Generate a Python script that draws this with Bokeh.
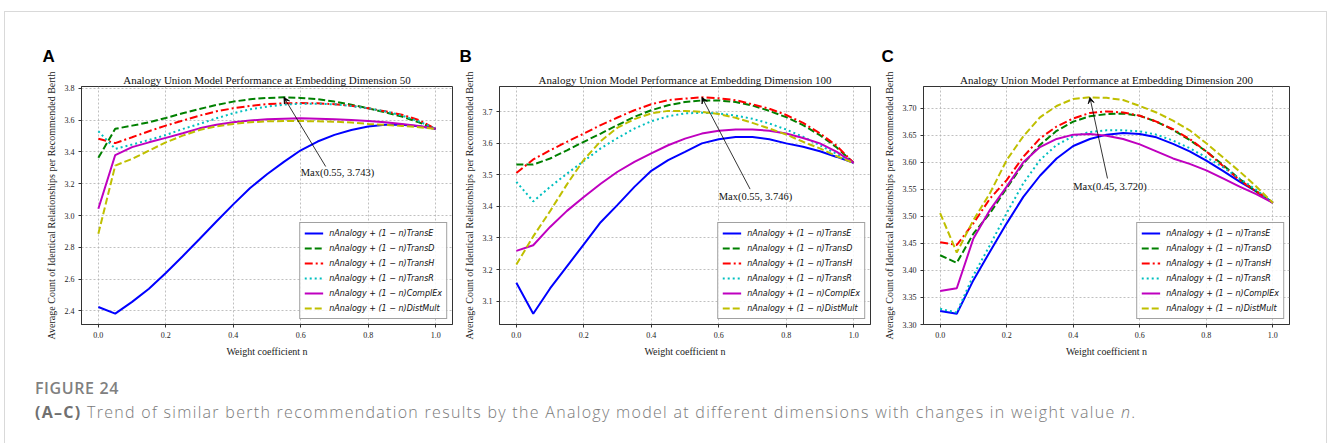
from bokeh.plotting import figure
from bokeh.models import (Range1d, FixedTicker, PrintfTickFormatter, Label, Arrow,
                          VeeHead, Div, Title)
from bokeh.layouts import row, column
from bokeh.embed import file_html
from bokeh.resources import INLINE

# ---------------- data ----------------
n = [0.0, 0.05, 0.1, 0.15, 0.2, 0.25, 0.3, 0.35, 0.4, 0.45, 0.5,
     0.55, 0.6, 0.65, 0.7, 0.75, 0.8, 0.85, 0.9, 0.95, 1.0]

series_names = ["TransE", "TransD", "TransH", "TransR", "ComplEx", "DistMult"]

# Embedding dimension 50
a_transe = [2.425, 2.383, 2.457, 2.540, 2.639, 2.744, 2.852, 2.962, 3.070, 3.173, 3.259,
            3.337, 3.410, 3.465, 3.507, 3.538, 3.559, 3.570, 3.570, 3.561, 3.545]
a_transd = [3.363, 3.545, 3.565, 3.586, 3.613, 3.643, 3.670, 3.695, 3.716, 3.731, 3.739,
            3.743, 3.739, 3.731, 3.716, 3.697, 3.674, 3.649, 3.622, 3.586, 3.545]
a_transh = [3.482, 3.455, 3.492, 3.530, 3.565, 3.597, 3.628, 3.655, 3.674, 3.689, 3.700,
            3.705, 3.707, 3.705, 3.700, 3.690, 3.674, 3.655, 3.634, 3.600, 3.545]
a_transr = [3.530, 3.419, 3.446, 3.475, 3.506, 3.544, 3.576, 3.611, 3.643, 3.668, 3.684,
            3.697, 3.703, 3.703, 3.699, 3.688, 3.674, 3.655, 3.628, 3.592, 3.545]
a_complex = [3.043, 3.380, 3.430, 3.460, 3.488, 3.517, 3.548, 3.570, 3.586, 3.597, 3.605,
             3.609, 3.611, 3.609, 3.605, 3.600, 3.594, 3.586, 3.576, 3.563, 3.545]
a_distmult = [2.886, 3.314, 3.356, 3.408, 3.460, 3.502, 3.538, 3.561, 3.576, 3.586, 3.592,
              3.594, 3.594, 3.592, 3.590, 3.584, 3.576, 3.570, 3.563, 3.555, 3.545]

# Embedding dimension 100
b_transe = [3.158, 3.060, 3.140, 3.210, 3.280, 3.350, 3.405, 3.462, 3.513, 3.547, 3.573,
            3.600, 3.613, 3.620, 3.620, 3.613, 3.600, 3.589, 3.575, 3.557, 3.538]
b_transd = [3.533, 3.533, 3.552, 3.578, 3.605, 3.631, 3.658, 3.684, 3.705, 3.721, 3.731,
            3.736, 3.736, 3.731, 3.720, 3.703, 3.683, 3.658, 3.626, 3.587, 3.538]
b_transh = [3.506, 3.549, 3.578, 3.605, 3.631, 3.658, 3.682, 3.705, 3.724, 3.737, 3.742,
            3.746, 3.743, 3.737, 3.724, 3.710, 3.690, 3.665, 3.632, 3.592, 3.538]
b_transr = [3.478, 3.416, 3.462, 3.504, 3.544, 3.584, 3.617, 3.647, 3.670, 3.686, 3.695,
            3.697, 3.695, 3.688, 3.678, 3.663, 3.644, 3.621, 3.594, 3.566, 3.538]
b_complex = [3.259, 3.277, 3.335, 3.386, 3.430, 3.472, 3.510, 3.541, 3.568, 3.594, 3.615,
             3.631, 3.640, 3.644, 3.644, 3.640, 3.631, 3.617, 3.600, 3.573, 3.538]
b_distmult = [3.216, 3.305, 3.385, 3.470, 3.548, 3.607, 3.650, 3.677, 3.695, 3.703, 3.703,
              3.700, 3.693, 3.681, 3.665, 3.647, 3.628, 3.605, 3.584, 3.559, 3.538]

# Embedding dimension 200
c_transe = [3.325, 3.320, 3.382, 3.435, 3.487, 3.536, 3.575, 3.607, 3.630, 3.643, 3.651,
            3.654, 3.652, 3.646, 3.634, 3.620, 3.603, 3.584, 3.564, 3.546, 3.525]
c_transd = [3.428, 3.414, 3.468, 3.506, 3.552, 3.597, 3.632, 3.658, 3.675, 3.685, 3.689,
            3.690, 3.686, 3.675, 3.660, 3.641, 3.620, 3.595, 3.569, 3.546, 3.525]
c_transh = [3.452, 3.447, 3.487, 3.533, 3.567, 3.610, 3.644, 3.666, 3.681, 3.691, 3.694,
            3.692, 3.686, 3.675, 3.661, 3.643, 3.620, 3.593, 3.567, 3.546, 3.525]
c_transr = [3.329, 3.322, 3.391, 3.447, 3.506, 3.561, 3.604, 3.632, 3.648, 3.656, 3.659,
            3.659, 3.657, 3.651, 3.640, 3.626, 3.609, 3.591, 3.570, 3.549, 3.525]
c_complex = [3.362, 3.367, 3.459, 3.512, 3.555, 3.600, 3.628, 3.643, 3.651, 3.652, 3.649,
             3.643, 3.633, 3.620, 3.607, 3.597, 3.585, 3.570, 3.555, 3.541, 3.525]
c_distmult = [3.506, 3.433, 3.493, 3.543, 3.604, 3.648, 3.683, 3.704, 3.717, 3.720, 3.719,
              3.715, 3.704, 3.692, 3.677, 3.659, 3.635, 3.609, 3.583, 3.555, 3.525]

x_ticks = [0.0, 0.2, 0.4, 0.6, 0.8, 1.0]
a_yticks = [2.4, 2.6, 2.8, 3.0, 3.2, 3.4, 3.6, 3.8]
b_yticks = [3.1, 3.2, 3.3, 3.4, 3.5, 3.6, 3.7]
c_yticks = [3.30, 3.35, 3.40, 3.45, 3.50, 3.55, 3.60, 3.65, 3.70]

dims = [50, 100, 200]
letters = ["A", "B", "C"]
title_tpl = "Analogy Union Model Performance at Embedding Dimension {}"
x_label = "Weight coefficient n"
y_label = "Average Count of Identical Relationships per Recommended Berth"
caption_head = "FIGURE 24"
caption_bold = "(A\u2013C)"
caption_text = (" Trend of similar berth recommendation results by the Analogy model "
                "at different dimensions with changes in weight value ")

# ---------------- styling ----------------
colors = ["#0000ff", "#008000", "#ff0000", "#00bfbf", "#bf00bf", "#bfbf00"]
dashes = ["solid", "7 3", "8 3 2 3", "2 3", "solid", "7 3"]
SERIF = "Liberation Serif"

H = 370
TOP, BOTTOM = 86, 46


def make_panel(idx, data, yticks, fmt, width, bl, br, max_series, txt_xy, tail_xy, letter_dx):
    lo = min(min(s) for s in data)
    hi = max(max(s) for s in data)
    pad = 0.05 * (hi - lo)
    p = figure(width=width, height=H, x_range=Range1d(-0.05, 1.05),
               y_range=Range1d(lo - pad, hi + pad), output_backend="svg",
               toolbar_location=None, min_border_left=bl, min_border_right=br,
               min_border_top=TOP, min_border_bottom=BOTTOM)
    p.background_fill_color = "white"
    p.border_fill_color = "white"
    p.outline_line_color = "#333333"
    p.outline_line_width = 1

    # panel letter (outer) and chart title (inner, next to the frame)
    p.title.text = letters[idx]
    p.title.align = "left"
    p.title.offset = letter_dx
    p.title.text_font = "Liberation Sans"
    p.title.text_font_style = "bold"
    p.title.text_font_size = "17px"
    p.title.text_color = "#000000"
    p.title.standoff = 10
    p.add_layout(Title(text=title_tpl.format(dims[idx]), align="center",
                       text_font=SERIF, text_font_style="normal",
                       text_font_size="11px", text_color="#111111", standoff=2), "above")

    for s, name, c, d in zip(data, series_names, colors, dashes):
        p.line(n, s, line_color=c, line_width=2, line_dash=d,
               legend_label="nAnalogy + (1 \u2212 n)" + name)

    for ax in (p.xaxis[0], p.yaxis[0]):
        ax.axis_line_color = "#333333"
        ax.major_tick_line_color = "#333333"
        ax.major_tick_out = 3
        ax.major_tick_in = 0
        ax.minor_tick_out = 0
        ax.minor_tick_in = 0
        ax.major_label_text_font = SERIF
        ax.major_label_text_font_size = "8px"
        ax.major_label_text_color = "#222222"
        ax.axis_label_text_font = SERIF
        ax.axis_label_text_font_size = "10px"
        ax.axis_label_text_font_style = "normal"
        ax.axis_label_text_color = "#222222"
        ax.major_label_standoff = 4
        ax.axis_label_standoff = 5

    p.xaxis.ticker = FixedTicker(ticks=x_ticks)
    p.xaxis.formatter = PrintfTickFormatter(format="%.1f")
    p.yaxis.ticker = FixedTicker(ticks=yticks)
    p.yaxis.formatter = PrintfTickFormatter(format=fmt)
    p.xaxis.axis_label = x_label
    p.yaxis.axis_label = y_label

    for g in (p.xgrid[0], p.ygrid[0]):
        g.grid_line_color = "#b0b0b0"
        g.grid_line_dash = "2 2"
        g.grid_line_width = 0.8

    lg = p.legend[0]
    lg.location = "bottom_right"
    lg.label_text_font = "DejaVu Sans"
    lg.label_text_font_style = "italic"
    lg.label_text_font_size = "8px"
    lg.label_text_color = "#111111"
    lg.glyph_width = 19
    lg.glyph_height = 12
    lg.label_height = 12
    lg.spacing = 3
    lg.padding = 4
    lg.margin = 5
    lg.label_standoff = 6
    lg.border_line_color = "#444444"
    lg.border_line_width = 1
    lg.background_fill_alpha = 0.85

    # max annotation
    s = data[max_series]
    k = max(range(len(s)), key=lambda i: s[i])
    p.add_layout(Arrow(end=VeeHead(size=6, line_color="black", fill_color="black", line_width=0.8),
                       x_start=tail_xy[0], y_start=tail_xy[1], x_end=n[k], y_end=s[k],
                       line_color="black", line_width=0.8))
    p.add_layout(Label(x=txt_xy[0], y=txt_xy[1], text="Max({:.2f}, {:.3f})".format(n[k], s[k]),
                       text_align="left", text_baseline="middle", text_font=SERIF,
                       text_font_size="10.5px", text_color="#111111"))
    return p


pa = make_panel(0, [a_transe, a_transd, a_transh, a_transr, a_complex, a_distmult],
                a_yticks, "%.1f", 460, 81, 8, 1, (0.60, 3.269), (0.674, 3.308), -39)
pb = make_panel(1, [b_transe, b_transd, b_transh, b_transr, b_complex, b_distmult],
                b_yticks, "%.1f", 420, 39, 10, 2, (0.60, 3.430), (0.693, 3.455), -40)
pc = make_panel(2, [c_transe, c_transd, c_transh, c_transr, c_complex, c_distmult],
                c_yticks, "%.2f", 448, 42, 39, 5, (0.40, 3.556), (0.503, 3.570), -42)

cap_html = (
    '<div style="position:fixed;left:4px;top:11px;width:1323px;height:480px;'
    'box-sizing:border-box;border:1.5px solid #d9d9d9;pointer-events:none;"></div>'
    '<div style="width:1328px;height:73px;box-sizing:border-box;padding-left:30px;'
    'font-family:\'Open Sans\',sans-serif;color:#7a7a7a;">'
    '<div style="padding-top:5px;font-size:16px;line-height:16px;font-weight:600;'
    'letter-spacing:0.6px;color:#808080;">'
    + caption_head + '</div>'
    '<div style="margin-top:6px;font-size:16px;line-height:20px;letter-spacing:1.3px;font-weight:300;">'
    '<b style="font-weight:700;color:#707070;">' + caption_bold + '</b>' + caption_text
    + '<i>n</i>.</div></div>'
)
cap = Div(text=cap_html, width=1328, height=73)

layout = column(row(pa, pb, pc), cap)
open("out.html", "w").write(file_html(layout, INLINE))
